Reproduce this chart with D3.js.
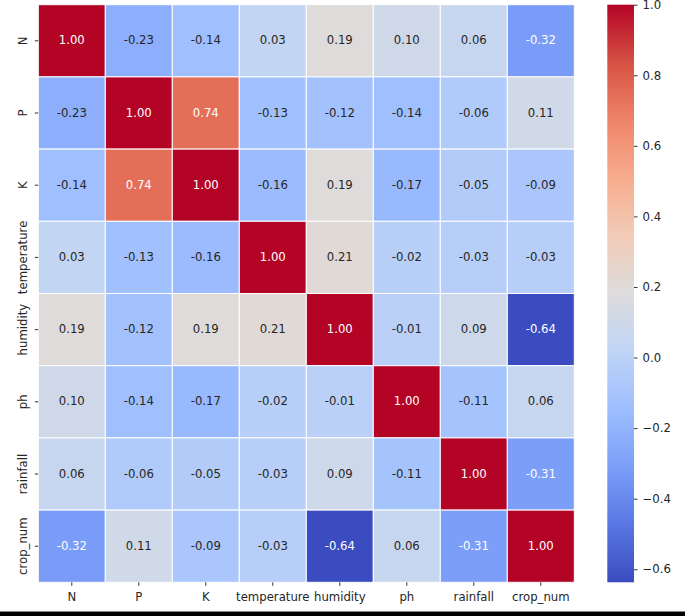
<!DOCTYPE html>
<html>
<head>
<meta charset="utf-8">
<script src="https://cdn.jsdelivr.net/npm/d3@7"></script>
<style>
  html, body { margin: 0; padding: 0; background: #fff; }
  svg { display: block; }
  text { font-family: "DejaVu Sans", sans-serif; }
</style>
</head>
<body>
<svg id="chart" width="685" height="616"></svg>
<script>
const rowLabels = ["N", "P", "K", "temperature", "humidity", "ph", "rainfall", "crop_num"];
const colLabels = ["N", "P", "K", "temperature", "humidity", "ph", "rainfall", "crop_num"];

const rowN           = [ 1.00, -0.23, -0.14,  0.03,  0.19,  0.10,  0.06, -0.32];
const rowP           = [-0.23,  1.00,  0.74, -0.13, -0.12, -0.14, -0.06,  0.11];
const rowK           = [-0.14,  0.74,  1.00, -0.16,  0.19, -0.17, -0.05, -0.09];
const rowTemperature = [ 0.03, -0.13, -0.16,  1.00,  0.21, -0.02, -0.03, -0.03];
const rowHumidity    = [ 0.19, -0.12,  0.19,  0.21,  1.00, -0.01,  0.09, -0.64];
const rowPh          = [ 0.10, -0.14, -0.17, -0.02, -0.01,  1.00, -0.11,  0.06];
const rowRainfall    = [ 0.06, -0.06, -0.05, -0.03,  0.09, -0.11,  1.00, -0.31];
const rowCropNum     = [-0.32,  0.11, -0.09, -0.03, -0.64,  0.06, -0.31,  1.00];

const colorbarTicks = [1.0, 0.8, 0.6, 0.4, 0.2, 0.0, -0.2, -0.4, -0.6];

const vmin = -0.637, vmax = 1.0;

// matplotlib "coolwarm" sampled at 0, 0.1, ... 1.0
const coolwarmStops = ["#3b4cc0", "#5977e3", "#7b9ff9", "#9ebeff", "#c0d4f5", "#dddcdc",
                       "#f2cbb7", "#f7ac8e", "#ee8468", "#d65244", "#b40426"];

const matrix = [rowN, rowP, rowK, rowTemperature, rowHumidity, rowPh, rowRainfall, rowCropNum];

const svg = d3.select("#chart");
const X0 = 38.3, X1 = 574.3, Y0 = 4.7, Y1 = 582.3;
const CB0 = 607.3, CB1 = 634;
const FS = 11.7;

const cmap = d3.scaleLinear()
  .domain(d3.range(coolwarmStops.length).map(i => i / (coolwarmStops.length - 1)))
  .range(coolwarmStops)
  .interpolate(d3.interpolateRgb)
  .clamp(true);
const norm = d3.scaleLinear().domain([vmin, vmax]).range([0, 1]);
const color = v => cmap(norm(v));

const x = d3.scaleBand().domain(colLabels).range([X0, X1]);
const y = d3.scaleBand().domain(rowLabels).range([Y0, Y1]);

function lum(c) {
  const rgb = d3.rgb(c);
  const f = v => { v /= 255; return v <= 0.03928 ? v / 12.92 : Math.pow((v + 0.055) / 1.055, 2.4); };
  return 0.2126 * f(rgb.r) + 0.7152 * f(rgb.g) + 0.0722 * f(rgb.b);
}

const cells = [];
matrix.forEach((row, i) => row.forEach((v, j) => cells.push({ r: rowLabels[i], c: colLabels[j], v })));

svg.append("g").selectAll("rect").data(cells).join("rect")
  .attr("x", d => x(d.c)).attr("y", d => y(d.r))
  .attr("width", x.bandwidth()).attr("height", y.bandwidth())
  .attr("fill", d => color(d.v))
  .attr("stroke", "#fff").attr("stroke-width", 1);

svg.append("g").selectAll("text").data(cells).join("text")
  .attr("x", d => x(d.c) + x.bandwidth() / 2)
  .attr("y", d => y(d.r) + y.bandwidth() / 2)
  .attr("dy", "0.3em")
  .attr("text-anchor", "middle")
  .attr("font-size", FS)
  .attr("fill", d => lum(color(d.v)) > 0.408 ? "#262626" : "#ffffff")
  .text(d => d.v.toFixed(2));

// x axis
const xAxis = d3.axisBottom(x).tickSize(3.5).tickPadding(4);
const gx = svg.append("g").attr("transform", `translate(0,${Y1})`).call(xAxis);
gx.select(".domain").remove();
gx.selectAll(".tick line").attr("stroke", "#333").attr("stroke-width", 1);
gx.selectAll(".tick text").attr("font-size", FS).attr("fill", "#262626")
  .attr("font-family", "DejaVu Sans").attr("y", 19).attr("dy", 0);

// y axis
const yAxis = d3.axisLeft(y).tickSize(3.5).tickPadding(4);
const gy = svg.append("g").attr("transform", `translate(${X0},0)`).call(yAxis);
gy.select(".domain").remove();
gy.selectAll(".tick line").attr("stroke", "#333").attr("stroke-width", 1);
gy.selectAll(".tick text").attr("font-size", FS).attr("fill", "#262626")
  .attr("font-family", "DejaVu Sans")
  .attr("x", 0).attr("dy", 0)
  .attr("text-anchor", "middle")
  .attr("transform", "translate(-11.6,0) rotate(-90)");

// colorbar
const defs = svg.append("defs");
const grad = defs.append("linearGradient").attr("id", "cbgrad")
  .attr("x1", 0).attr("y1", 1).attr("x2", 0).attr("y2", 0);
grad.selectAll("stop").data(d3.range(0, 1.0001, 0.02)).join("stop")
  .attr("offset", d => d).attr("stop-color", d => cmap(d));

const cy = d3.scaleLinear().domain([vmin, vmax]).range([Y1, Y0]);
svg.append("rect").attr("x", CB0).attr("y", Y0).attr("width", CB1 - CB0).attr("height", Y1 - Y0)
  .attr("fill", "url(#cbgrad)");

const cAxis = d3.axisRight(cy).tickValues(colorbarTicks).tickSize(3.5).tickPadding(5)
  .tickFormat(d => d3.format(".1f")(d).replace("-", "\u2212"));
const gc = svg.append("g").attr("transform", `translate(${CB1},0)`).call(cAxis);
gc.select(".domain").remove();
gc.selectAll(".tick line").attr("stroke", "#333").attr("stroke-width", 1);
gc.selectAll(".tick text").attr("font-size", FS).attr("fill", "#262626")
  .attr("font-family", "DejaVu Sans");

// bottom dark band of the screenshot
svg.append("rect").attr("x", 0).attr("y", 611).attr("width", 685).attr("height", 1).attr("fill", "#888");
svg.append("rect").attr("x", 0).attr("y", 612).attr("width", 685).attr("height", 4).attr("fill", "#000");
</script>
</body>
</html>
